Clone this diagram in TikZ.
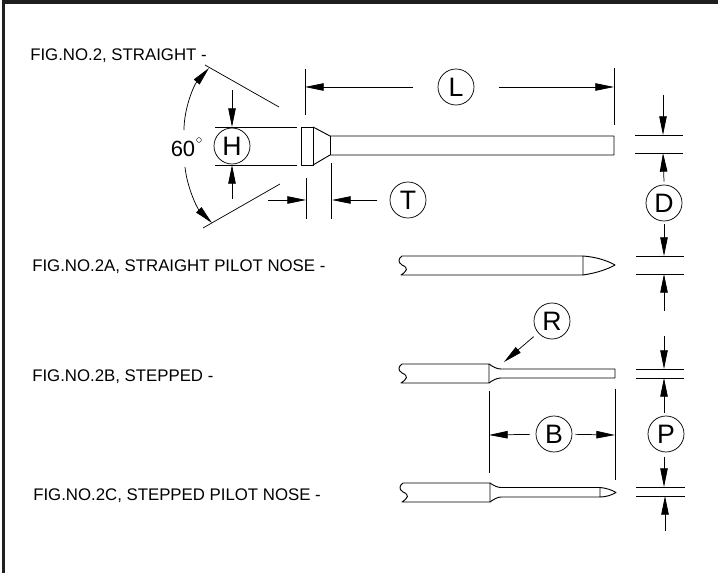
\documentclass[tikz,border=0pt]{standalone}
\usepackage{fontspec}
\setmainfont{Liberation Sans}
\usetikzlibrary{arrows.meta}
\tikzset{
    dim/.style = {draw, line width=0.55pt, -{Triangle[length=14pt,width=5.6pt]}},
    extline/.style = {draw, line width=0.55pt},
    shank/.style = {draw, line width=0.7pt, line join=round},
    tag/.style = {draw, circle, line width=0.55pt, minimum size=27pt, inner sep=0pt, outer sep=2.5pt, font=\fontsize{20}{22}\selectfont},
    figlabel/.style = {anchor=west, inner sep=0pt, font=\fontsize{12.6}{14}\selectfont}
}
\def\shankbreak#1#2{%
    (#1,#2) .. controls (#1-3,#2+2) and (#1-5,#2+6) .. (#1,#2+9) .. controls (#1+7,#2+12) and (#1+5,#2+15) .. (#1-1,#2+19)
}
\begin{document}
\begin{tikzpicture}[x=0.75pt,y=-0.75pt]
    \useasboundingbox (0,0) rectangle (718,573);
    % frame
    \fill [black!88] (2,0) rectangle (5,573);
    \fill [black!88] (2,0) rectangle (718,4);
    % labels
    \node [figlabel] (fig2) at (30,55.5) {FIG.NO.2, STRAIGHT -};
    \node [figlabel] (fig2a) at (32,266.5) {FIG.NO.2A, STRAIGHT PILOT NOSE -};
    \node [figlabel] (fig2b) at (32,376.5) {FIG.NO.2B, STEPPED -};
    \node [figlabel] (fig2c) at (33,495.5) {FIG.NO.2C, STEPPED PILOT NOSE -};
    \node [tag] (L) at (456,87) {L};
    \node [tag] (H) at (232,146) {H};
    \node [tag] (T) at (408,200) {T};
    \node [tag] (D) at (664,203) {D};
    \node [tag] (R) at (552,321) {R};
    \node [tag] (B) at (554,434) {B};
    \node [tag] (P) at (666,434) {P};
    \node [inner sep=0pt, font=\fontsize{16.5}{18}\selectfont] (ang) at (183,149) {60};
    \node [draw, circle, line width=0.3pt, inner sep=0pt, minimum size=3.6pt] (deg) at (199,140) {};
    % tools
    \draw [shank] (301,127) rectangle (313,165);
    \draw [shank] (313,127) -- (330,136) -- (614,136) -- (614,155) -- (330,155) -- (313,165);
    \draw [shank] (330,136) -- (330,155);
    \draw [shank] \shankbreak{402}{256} -- (401,275) -- (583,275) -- (583,256) -- cycle;
    \draw [shank] (583,256) .. controls (597,257) and (608,261) .. (615,265) .. controls (608,269) and (597,273) .. (583,275);
    \draw [shank] \shankbreak{402}{364} -- (401,383) -- (489,383) -- (489,364) -- cycle;
    \draw [shank] (489,364) .. controls (493,367) and (497,369) .. (501,369) -- (615,369) -- (615,378) -- (501,378) .. controls (497,378) and (493,380) .. (489,383);
    \draw [shank] \shankbreak{403}{483} -- (402,502) -- (490,502) -- (490,483) -- cycle;
    \draw [shank] (490,483) .. controls (494,486) and (498,487.5) .. (501,487.5) -- (600,487.5) -- (600,497) -- (501,497) .. controls (498,497) and (494,499) .. (490,502);
    \draw [shank] (600,487.5) .. controls (606,488) and (612,490) .. (616,492.5) .. controls (612,495) and (606,497) .. (600,497);
    % extension lines
    \draw [extline] (205,65) -- (279,107);
    \draw [extline] (203,228) -- (280,184);
    \draw [extline] (215,127) -- (297,127);
    \draw [extline] (215,165) -- (297,165);
    \draw [extline] (305,69) -- (305,115);
    \draw [extline] (614,68) -- (614,125);
    \draw [extline] (306,178) -- (306,219);
    \draw [extline] (331,163) -- (331,219);
    \draw [extline] (635,135) -- (683,135);
    \draw [extline] (635,153) -- (683,153);
    \draw [extline] (636,256) -- (684,256);
    \draw [extline] (636,274) -- (684,274);
    \draw [extline] (636,369) -- (684,369);
    \draw [extline] (636,378) -- (684,378);
    \draw [extline] (636,487) -- (685,487);
    \draw [extline] (636,496) -- (685,496);
    \draw [extline] (489,391) -- (489,473);
    \draw [extline] (615,389) -- (615,480);
    % dimensions
    \coordinate (angtop) at (184,130);
    \coordinate (angbot) at (185,167);
    \draw [dim] (angtop) .. controls (184,108) and (194,85) .. (209,68);
    \draw [dim] (angbot) .. controls (187,187) and (197,208) .. (212,223);
    \draw [dim, shorten <=16pt] (L) -- (305,87);
    \draw [dim, shorten <=16pt] (L) -- (614,87);
    \coordinate (Htop) at (232,90);
    \coordinate (Hbot) at (232,199);
    \draw [dim] (Htop) -- (232,127);
    \draw [dim] (Hbot) -- (232,165);
    \coordinate (Tleft) at (268,200);
    \draw [dim] (Tleft) -- (306,200);
    \draw [dim, shorten <=7pt] (T) -- (332,200);
    \coordinate (Dtop) at (663,95);
    \draw [dim] (Dtop) -- (663,135);
    \draw [dim] (D.north) -- (663,153);
    \draw [dim] (D.south) -- (664,256);
    \coordinate (Dbot) at (664,311);
    \draw [dim] (Dbot) -- (664,274);
    \draw [dim, shorten <=2pt] (R) -- (504,362);
    \coordinate (Ptop) at (664,336);
    \draw [dim] (Ptop) -- (664,369);
    \coordinate (Pup) at (664,413);
    \coordinate (Pdown) at (664,457);
    \draw [dim] (Pup) -- (664,378);
    \draw [dim] (Pdown) -- (664,487);
    \coordinate (Pbot) at (665,531);
    \draw [dim] (Pbot) -- (665,496);
    \draw [dim, shorten <=2pt] (B) -- (489,435);
    \draw [dim] (B) -- (615,435);
\end{tikzpicture}
\end{document}
